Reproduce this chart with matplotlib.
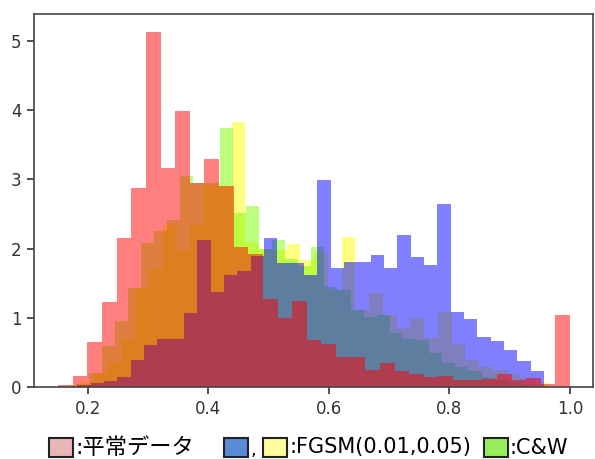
import numpy as np
import matplotlib
matplotlib.use("Agg")
import matplotlib.pyplot as plt
from matplotlib.patches import Rectangle

# density histograms, 35 bins each over the range of each set
normal_range = (0.151, 1.0)
normal_vals = [0.03, 0.17, 0.65, 1.23, 2.16, 2.88, 5.13, 3.17, 3.98, 2.94,
               3.29, 2.91, 2.03, 1.93, 1.28, 1.00, 1.24, 0.68, 0.63, 0.44,
               0.44, 0.25, 0.35, 0.23, 0.19, 0.15, 0.16, 0.10, 0.10, 0.12,
               0.19, 0.10, 0.14, 0.05, 1.05]

fgsm1_range = (0.183, 0.957)
fgsm1_vals = [0.03, 0.06, 0.09, 0.15, 0.40, 0.61, 0.70, 0.70, 1.07, 2.13,
              1.37, 1.62, 1.68, 1.90, 2.15, 1.80, 1.80, 1.62, 2.99, 1.72,
              1.81, 1.81, 1.91, 1.72, 2.19, 1.88, 1.76, 2.64, 1.08, 0.98,
              0.73, 0.67, 0.54, 0.38, 0.24]

fgsm5_range = (0.165, 0.963)
fgsm5_vals = [0.03, 0.08, 0.20, 0.37, 0.68, 1.43, 1.70, 2.34, 1.98, 2.34,
              2.92, 2.90, 3.82, 2.10, 2.00, 1.98, 2.06, 1.84, 1.95, 1.41,
              2.17, 1.12, 1.36, 1.05, 0.85, 1.00, 0.71, 1.09, 0.62, 0.39,
              0.30, 0.25, 0.19, 0.14, 0.08]

cw_range = (0.180, 0.940)
cw_vals = [0.05, 0.20, 0.60, 0.95, 1.43, 2.08, 2.25, 2.42, 3.05, 2.95,
           2.95, 3.74, 2.51, 2.61, 2.00, 2.12, 1.85, 1.75, 2.02, 1.45,
           1.41, 1.12, 1.02, 1.04, 0.78, 0.70, 0.68, 0.49, 0.35, 0.30,
           0.23, 0.15, 0.10, 0.07, 0.04]

xticks = [0.2, 0.4, 0.6, 0.8, 1.0]
yticks = [0, 1, 2, 3, 4, 5]

W, H = 595, 459
fig = plt.figure(figsize=(W / 100, H / 100), dpi=100)
ax = fig.add_axes([34 / W, 1 - 387.3 / H, 559 / W, 373.3 / H])

# drawing order matters for the blended colours
layers = [(fgsm5_range, fgsm5_vals, "yellow"),
          (cw_range, cw_vals, "lawngreen"),
          (fgsm1_range, fgsm1_vals, "blue"),
          (normal_range, normal_vals, "red")]
for rng, vals, col in layers:
    edges = np.linspace(rng[0], rng[1], len(vals) + 1)
    ax.hist(edges[:-1], bins=edges, weights=vals, color=col, alpha=0.5)

ax.set_xlim(0.111, 1.038)
ax.set_ylim(0, 5.385)
ax.set_xticks(xticks)
ax.set_xticklabels([f"{t:.1f}" for t in xticks])
ax.set_yticks(yticks)
ax.tick_params(labelsize=12, length=5, width=1.2, pad=4, colors="#333333")
for s in ax.spines.values():
    s.set_color("#444444")
    s.set_linewidth(1.2)

# caption row under the plot
fam = ["DejaVu Sans", "Noto Sans CJK JP"]
def box(px, col):
    fig.patches.append(Rectangle((px / W, 1 - 457 / H), 24 / W, 19 / H,
                                 transform=fig.transFigure, facecolor=col,
                                 edgecolor="#222222", linewidth=1.5))

ty = 1 - 447.5 / H
box(49, "#e9b6b8")
fig.text(75 / W, ty, ":平常データ", fontsize=16, va="center", family=fam)
box(224, "#5b8ad6")
fig.text(251 / W, 1 - 455 / H, ",", fontsize=13, va="baseline", family=fam)
box(263, "#fdfd9c")
fig.text(289 / W, ty, ":FGSM(0.01,0.05)", fontsize=15, va="center", family=fam)
box(484, "#97ee5a")
fig.text(509 / W, ty, ":C&W", fontsize=15, va="center", family=fam)

fig.savefig("out.png", dpi=100)
